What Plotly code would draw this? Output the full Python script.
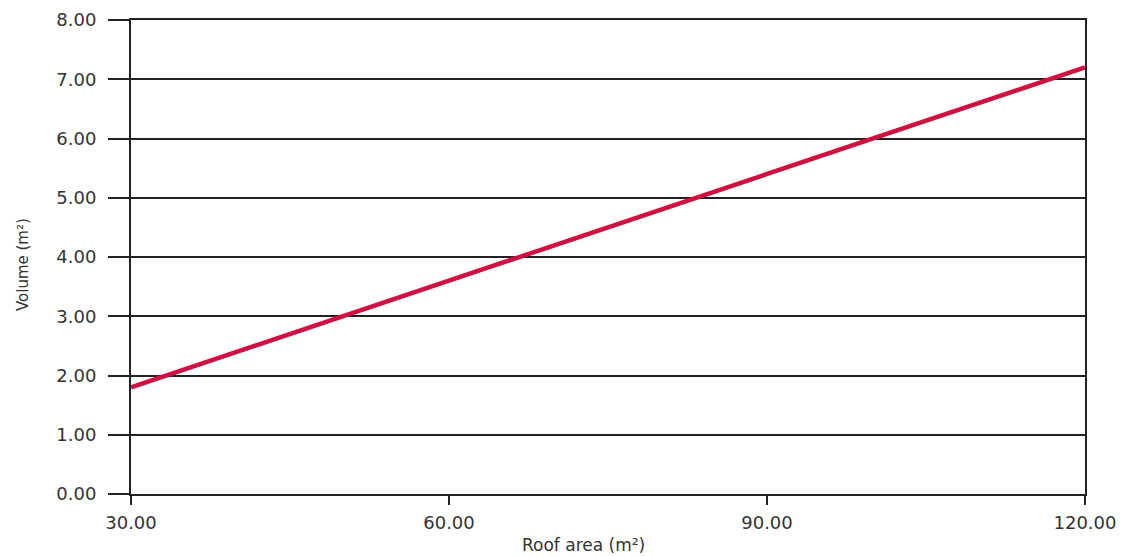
import plotly.graph_objects as go

roof_area = [30, 120]
volume = [1.8, 7.2]
x_ticks = [30, 60, 90, 120]
x_labels = ["30.00", "60.00", "90.00", "120.00"]
y_ticks = [0, 1, 2, 3, 4, 5, 6, 7, 8]
y_labels = ["0.00", "1.00", "2.00", "3.00", "4.00", "5.00", "6.00", "7.00", "8.00"]

fig = go.Figure()
fig.add_trace(go.Scatter(x=roof_area, y=volume, mode="lines",
                         line=dict(color="#d21040", width=4.5), showlegend=False))

font = "DejaVu Sans, Liberation Sans, Arial, sans-serif"
txt = "#333333"
ax = "#222222"
fig.update_layout(
    width=1127, height=556,
    margin=dict(l=123, r=50, t=12, b=70, autoexpand=False),
    paper_bgcolor="white", plot_bgcolor="white",
    font=dict(family=font, color=txt),
    xaxis=dict(range=[30, 120], tickvals=x_ticks, ticktext=x_labels,
               showgrid=False, zeroline=False, automargin=False,
               showline=True, linecolor=ax, linewidth=2, mirror=True,
               ticks="outside", ticklen=9, tickwidth=2, tickcolor=ax,
               ticklabelstandoff=2,
               tickfont=dict(size=18, color=txt)),
    yaxis=dict(range=[0, 8], tickvals=y_ticks, ticktext=y_labels,
               showgrid=True, gridcolor=ax, gridwidth=1.5, zeroline=False,
               automargin=False,
               showline=True, linecolor=ax, linewidth=2, mirror=True,
               ticks="outside", ticklen=21, tickwidth=2, tickcolor=ax,
               ticklabelstandoff=8,
               tickfont=dict(size=18, color=txt)),
    annotations=[
        dict(text="Roof area (m²)", xref="paper", yref="paper", x=0.474, y=0,
             yshift=-51, xanchor="center", yanchor="middle", showarrow=False,
             font=dict(size=17, color=txt, family=font)),
        dict(text="Volume (m²)", xref="paper", yref="paper", x=0, y=0.483,
             xshift=-108, xanchor="center", yanchor="middle", textangle=-90,
             showarrow=False, font=dict(size=15, color=txt, family=font)),
    ],
)

fig.write_html("out.html")
